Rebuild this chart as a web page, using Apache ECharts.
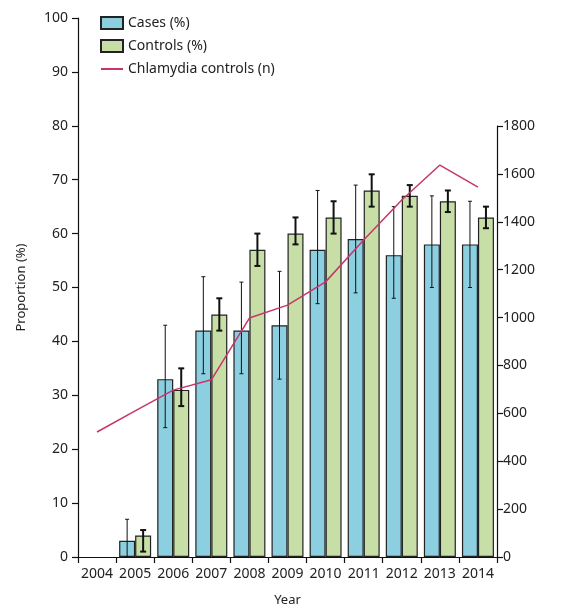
<!DOCTYPE html>
<html><head><meta charset="utf-8">
<script src="https://cdn.jsdelivr.net/npm/echarts@6/dist/echarts.min.js"></script>
<style>html,body{margin:0;padding:0;background:#fff}#c{width:564px;height:608px}</style>
</head><body><div id="c"></div>
<script>
var years = ['2004','2005','2006','2007','2008','2009','2010','2011','2012','2013','2014'];
var casesPct    = [null, 3, 33, 42, 42, 43, 57, 59, 56, 58, 58];
var casesLow    = [null, 0, 24, 34, 34, 33, 47, 49, 48, 50, 50];
var casesHigh   = [null, 7, 43, 52, 51, 53, 68, 69, 65, 67, 66];
var controlsPct = [null, 4, 31, 45, 57, 60, 63, 68, 67, 66, 63];
var controlsLow = [null, 1, 28, 42, 54, 58, 60, 65, 65, 64, 61];
var controlsHigh= [null, 5, 35, 48, 60, 63, 66, 71, 69, 68, 65];
var chlamydiaN  = [522, 610, 697, 740, 998, 1052, 1149, 1324, 1491, 1637, 1545];

var FONT = 'Noto Sans';
var BAR_W = 16;

function errData(lo, hi){
  var d = [];
  for (var i = 0; i < years.length; i++) {
    if (lo[i] != null) d.push([i, lo[i], hi[i]]);
  }
  return d;
}
function errRender(offset, lw, cap){
  return function(params, api){
    var x = api.value(0);
    var a = api.coord([x, api.value(1)]);
    var b = api.coord([x, api.value(2)]);
    var cx = a[0] + offset;
    var st = {stroke:'#111', lineWidth: lw};
    return {type:'group', children:[
      {type:'line', shape:{x1:cx,y1:a[1],x2:cx,y2:b[1]}, style:st},
      {type:'line', shape:{x1:cx-cap,y1:a[1],x2:cx+cap,y2:a[1]}, style:st},
      {type:'line', shape:{x1:cx-cap,y1:b[1],x2:cx+cap,y2:b[1]}, style:st}
    ]};
  };
}

var chart = echarts.init(document.getElementById('c'));
var axisTxt = {color:'#222', fontFamily:FONT, fontSize:14};
chart.setOption({
  animation:false,
  textStyle:{fontFamily:FONT},
  legend:{
    orient:'vertical', left:95, top:11, itemWidth:22, itemHeight:12, itemGap:9,
    textStyle:{color:'#222', fontFamily:FONT, fontSize:14},
    data:[
      {name:'Cases (%)', icon:'rect'},
      {name:'Controls (%)', icon:'rect'},
      {name:'Chlamydia controls (n)', itemStyle:{opacity:0}}
    ]
  },
  grid:[
    {left:78, right:67, top:18, bottom:51, containLabel:false, outerBoundsMode:'none'},
    {left:78, right:67, top:126, bottom:51, containLabel:false, outerBoundsMode:'none'}
  ],
  xAxis:[
    {type:'category', gridIndex:0, data:years, boundaryGap:true,
     axisLine:{lineStyle:{color:'#111', width:1.2}},
     axisTick:{show:true, alignWithLabel:false, length:6, lineStyle:{color:'#111', width:1.2}},
     axisLabel:Object.assign({margin:10, interval:0}, axisTxt),
     name:'Year', nameLocation:'middle', nameGap:37,
     nameTextStyle:{color:'#222', fontFamily:FONT, fontSize:13}},
    {type:'category', gridIndex:1, data:years, boundaryGap:true, show:false}
  ],
  yAxis:[
    {type:'value', gridIndex:0, min:0, max:100, interval:10, position:'left',
     axisLine:{show:true, lineStyle:{color:'#111', width:1.2}},
     axisTick:{show:true, length:6, lineStyle:{color:'#111', width:1.2}},
     splitLine:{show:false},
     axisLabel:Object.assign({margin:10}, axisTxt),
     name:'Proportion (%)', nameLocation:'middle', nameGap:50, nameRotate:90,
     nameTextStyle:{color:'#222', fontFamily:FONT, fontSize:13}},
    {type:'value', gridIndex:1, min:0, max:1800, interval:200, position:'right',
     axisLine:{show:true, lineStyle:{color:'#111', width:1.2}},
     axisTick:{show:true, length:6, lineStyle:{color:'#111', width:1.2}},
     splitLine:{show:false},
     axisLabel:Object.assign({margin:6, formatter:function(v){return String(v);}}, axisTxt)}
  ],
  series:[
    {name:'Cases (%)', type:'bar', xAxisIndex:0, yAxisIndex:0, data:casesPct,
     barWidth:BAR_W, barGap:'0%',
     itemStyle:{color:'#8bcfe0', borderColor:'#222', borderWidth:1.2}},
    {name:'Controls (%)', type:'bar', xAxisIndex:0, yAxisIndex:0, data:controlsPct,
     barWidth:BAR_W, barGap:'0%',
     itemStyle:{color:'#c8dea7', borderColor:'#222', borderWidth:1.2}},
    {name:'casesErr', type:'custom', xAxisIndex:0, yAxisIndex:0, z:5,
     data:errData(casesLow, casesHigh), encode:{x:0, y:[1,2]},
     renderItem:errRender(-BAR_W/2, 1, 2)},
    {name:'controlsErr', type:'custom', xAxisIndex:0, yAxisIndex:0, z:5,
     data:errData(controlsLow, controlsHigh), encode:{x:0, y:[1,2]},
     renderItem:errRender(BAR_W/2, 2, 3)},
    {name:'Chlamydia controls (n)', type:'line', xAxisIndex:1, yAxisIndex:1, z:6,
     data:chlamydiaN, symbol:'none',
     lineStyle:{color:'#c8356a', width:1.5}, itemStyle:{color:'#c8356a'}}
  ]
});
</script></body></html>
